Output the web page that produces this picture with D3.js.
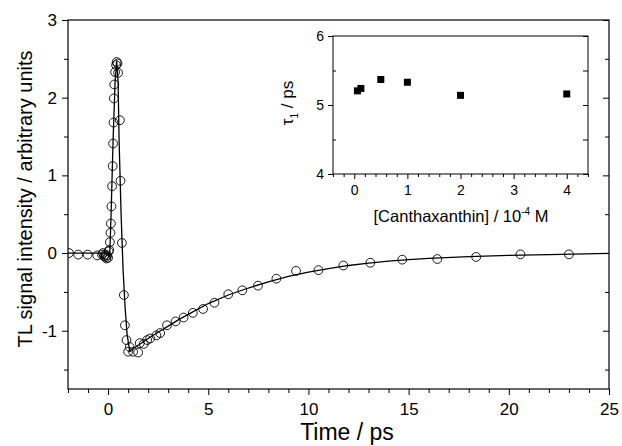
<!DOCTYPE html>
<html>
<head>
<meta charset="utf-8">
<script src="https://cdn.jsdelivr.net/npm/d3@7"></script>
<style>
  body { margin: 0; background: #fff; }
  svg { display: block; font-family: "Liberation Sans", Arial, sans-serif; }
  .axis text { fill: #000; }
  .axis line { stroke: #000; }
</style>
</head>
<body>
<div id="chart"></div>
<script>
// measured TL signal (open circles)
const timePs = [-1.95, -1.49, -1.02, -0.54, -0.30, -0.25, -0.20, -0.15, -0.12, -0.08, -0.05, 0.00, 0.03, 0.06,
  0.09, 0.12, 0.14, 0.17, 0.20, 0.23, 0.25, 0.27, 0.29, 0.31, 0.35, 0.40, 0.43, 0.47, 0.50,
  0.59, 0.62, 0.69, 0.79, 0.84, 0.92, 1.00, 1.08, 1.25, 1.50, 1.58, 1.78, 1.95, 2.10, 2.41, 2.60,
  2.94, 3.37, 3.77, 4.23, 4.74, 5.31, 6.00, 6.70, 7.48, 8.40, 9.38, 10.5, 11.74, 13.09, 14.68,
  16.43, 18.37, 20.58, 23.0];
const signal = [0.00, -0.02, -0.02, -0.03, -0.02, 0.00, -0.04, -0.02, -0.05, -0.07, -0.03, -0.06, 0.02, 0.04,
  0.14, 0.26, 0.38, 0.60, 0.86, 1.12, 1.41, 1.68, 1.99, 2.17, 2.33, 2.42, 2.46, 2.44, 2.32,
  1.71, 0.93, 0.13, -0.54, -0.93, -1.12, -1.27, -1.21, -1.27, -1.28, -1.16, -1.17, -1.12, -1.10, -1.06, -1.03,
  -0.93, -0.88, -0.83, -0.77, -0.72, -0.64, -0.53, -0.48, -0.42, -0.33, -0.23, -0.22, -0.16, -0.125, -0.085,
  -0.077, -0.05, -0.017, -0.017];

// fitted curve (solid line)
const fitTime = [-2, 0.0, 0.08, 0.15, 0.25, 0.35, 0.43, 0.50, 0.55, 0.65, 0.75, 0.85, 0.95, 1.08, 1.3, 1.6,
  2, 2.5, 3, 3.5, 4, 5, 6, 7, 8, 9, 10, 11, 12, 13, 14, 15, 16, 18, 20, 22, 25];
const fitSignal = [0, 0, -0.04, 0.5, 1.45, 2.2, 2.47, 2.2, 1.45, 0.5, -0.22, -0.7, -1.05, -1.26, -1.22, -1.17,
  -1.10, -1.02, -0.94, -0.86, -0.79, -0.65, -0.54, -0.45, -0.37, -0.30, -0.245, -0.20, -0.16, -0.13, -0.105,
  -0.085, -0.068, -0.045, -0.03, -0.02, -0.005];

// inset: tau1 vs concentration
const concentration = [0.06, 0.125, 0.5, 1.0, 2.0, 4.0];
const tau1 = [5.205, 5.24, 5.37, 5.33, 5.14, 5.16];

const xMajor = [0, 5, 10, 15, 20, 25];
const xMinor = [-2, -1, 1, 2, 3, 4, 6, 7, 8, 9, 11, 12, 13, 14, 16, 17, 18, 19, 21, 22, 23, 24];
const yMajor = [-1, 0, 1, 2, 3];
const yMinor = [-1.5, -0.5, 0.5, 1.5, 2.5];
const insetXMajor = [0, 1, 2, 3, 4];
const insetXMinor = [-0.4, -0.2, 0.2, 0.4, 0.6, 0.8, 1.2, 1.4, 1.6, 1.8, 2.2, 2.4, 2.6, 2.8, 3.2, 3.4, 3.6, 3.8, 4.2, 4.4];
const insetYMajor = [4, 5, 6];
const insetYMinor = [4.5, 5.5];

const width = 622, height = 446;
const plot = {left: 68, right: 609, top: 20, bottom: 389};
const fmt = d => String(d);   // plain hyphen minus, no decimals

const svg = d3.select("#chart").append("svg")
  .attr("width", width)
  .attr("height", height);

const x = d3.scaleLinear().domain([-2, 25]).range([plot.left, plot.right]);
const y = d3.scaleLinear().domain([-1.75, 3]).range([plot.bottom, plot.top]);

function styleAxis(g, fontSize) {
  g.attr("class", "axis").call(s => s.select(".domain").remove());
  g.selectAll("text").style("font-size", fontSize + "px").attr("font-family", null);
  g.selectAll("line").attr("stroke-width", 1);
}

// main axes
svg.append("g")
  .attr("transform", `translate(0,${plot.bottom})`)
  .call(d3.axisBottom(x).tickValues(xMajor).tickSize(6).tickPadding(8).tickFormat(fmt))
  .call(g => styleAxis(g, 17));
svg.append("g")
  .attr("transform", `translate(0,${plot.bottom})`)
  .call(d3.axisBottom(x).tickValues(xMinor).tickSize(4).tickFormat(""))
  .call(g => styleAxis(g, 17));

svg.append("g")
  .attr("transform", `translate(${plot.left},0)`)
  .call(d3.axisLeft(y).tickValues(yMajor).tickSize(6).tickPadding(5).tickFormat(fmt))
  .call(g => styleAxis(g, 17));
svg.append("g")
  .attr("transform", `translate(${plot.left},0)`)
  .call(d3.axisLeft(y).tickValues(yMinor).tickSize(4).tickFormat(""))
  .call(g => styleAxis(g, 17));

svg.append("g")
  .attr("transform", `translate(${plot.right},0)`)
  .call(d3.axisRight(y).tickValues(yMajor).tickSize(-6).tickFormat(""))
  .call(g => styleAxis(g, 17));
svg.append("g")
  .attr("transform", `translate(${plot.right},0)`)
  .call(d3.axisRight(y).tickValues(yMinor).tickSize(-4).tickFormat(""))
  .call(g => styleAxis(g, 17));

svg.append("clipPath").attr("id", "plot-clip")
  .append("rect")
  .attr("x", plot.left).attr("y", plot.top)
  .attr("width", plot.right - plot.left).attr("height", plot.bottom - plot.top);

const content = svg.append("g").attr("clip-path", "url(#plot-clip)");

const fitPoints = fitTime.map((t, i) => [t, fitSignal[i]]);
content.append("path")
  .datum(fitPoints)
  .attr("fill", "none")
  .attr("stroke", "#000")
  .attr("stroke-width", 1.3)
  .attr("d", d3.line().x(d => x(d[0])).y(d => y(d[1])));

content.selectAll("circle.obs")
  .data(timePs.map((t, i) => [t, signal[i]]))
  .enter()
  .append("circle")
  .attr("class", "obs")
  .attr("cx", d => x(d[0]))
  .attr("cy", d => y(d[1]))
  .attr("r", 4.4)
  .attr("fill", "none")
  .attr("stroke", "#000")
  .attr("stroke-width", 0.9);

// frame
svg.append("rect")
  .attr("x", plot.left).attr("y", plot.top)
  .attr("width", plot.right - plot.left).attr("height", plot.bottom - plot.top)
  .attr("fill", "none").attr("stroke", "#000").attr("stroke-width", 1.2);

// axis titles
svg.append("text")
  .attr("x", 347).attr("y", 440)
  .attr("text-anchor", "middle")
  .style("font-size", "23px")
  .text("Time / ps");

svg.append("text")
  .attr("transform", "translate(32,199) rotate(-90)")
  .attr("text-anchor", "middle")
  .style("font-size", "20px")
  .text("TL signal intensity / arbitrary units");

// inset
const inset = {left: 333, right: 588, top: 36, bottom: 174};
const ix = d3.scaleLinear().domain([-0.4, 4.4]).range([inset.left, inset.right]);
const iy = d3.scaleLinear().domain([4, 6]).range([inset.bottom, inset.top]);

svg.append("rect")
  .attr("x", inset.left).attr("y", inset.top)
  .attr("width", inset.right - inset.left).attr("height", inset.bottom - inset.top)
  .attr("fill", "#fff");

svg.append("g")
  .attr("transform", `translate(0,${inset.bottom})`)
  .call(d3.axisBottom(ix).tickValues(insetXMajor).tickSize(5).tickPadding(6).tickFormat(fmt))
  .call(g => styleAxis(g, 14));
svg.append("g")
  .attr("transform", `translate(0,${inset.bottom})`)
  .call(d3.axisBottom(ix).tickValues(insetXMinor).tickSize(3).tickFormat(""))
  .call(g => styleAxis(g, 14));
svg.append("g")
  .attr("transform", `translate(${inset.left},0)`)
  .call(d3.axisLeft(iy).tickValues(insetYMajor).tickSize(5).tickPadding(4).tickFormat(fmt))
  .call(g => styleAxis(g, 14));
svg.append("g")
  .attr("transform", `translate(${inset.left},0)`)
  .call(d3.axisLeft(iy).tickValues(insetYMinor).tickSize(-3).tickFormat(""))
  .call(g => styleAxis(g, 14));
svg.append("g")
  .attr("transform", `translate(${inset.right},0)`)
  .call(d3.axisRight(iy).tickValues(insetYMajor.concat(insetYMinor)).tickSize(-5).tickFormat(""))
  .call(g => styleAxis(g, 14));

svg.append("rect")
  .attr("x", inset.left).attr("y", inset.top)
  .attr("width", inset.right - inset.left).attr("height", inset.bottom - inset.top)
  .attr("fill", "none").attr("stroke", "#000").attr("stroke-width", 1);

const sq = 7;
svg.selectAll("rect.tau")
  .data(concentration.map((c, i) => [c, tau1[i]]))
  .enter()
  .append("rect")
  .attr("class", "tau")
  .attr("x", d => ix(d[0]) - sq / 2)
  .attr("y", d => iy(d[1]) - sq / 2)
  .attr("width", sq).attr("height", sq)
  .attr("fill", "#000");

const xl = svg.append("text")
  .attr("x", 461).attr("y", 222)
  .attr("text-anchor", "middle")
  .style("font-size", "16.5px");
xl.append("tspan").text("[Canthaxanthin] / 10");
xl.append("tspan").attr("dy", -7).style("font-size", "10px").text("-4");
xl.append("tspan").attr("dy", 7).text(" M");

const yl = svg.append("text")
  .attr("transform", "translate(293,103) rotate(-90)")
  .attr("text-anchor", "middle")
  .style("font-size", "17px");
yl.append("tspan").text("\u03c4");
yl.append("tspan").attr("dy", 5).style("font-size", "10px").text("1");
yl.append("tspan").attr("dy", -5).text(" / ps");
</script>
</body>
</html>
